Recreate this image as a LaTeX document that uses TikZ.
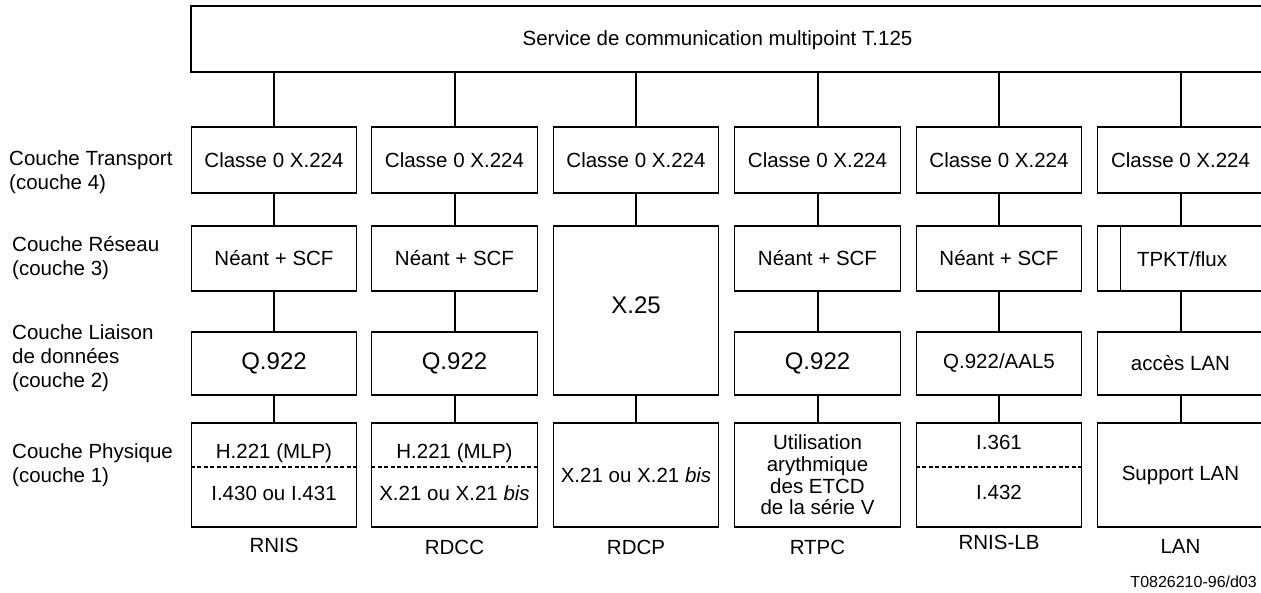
\documentclass[tikz,border=0pt]{standalone}
\usepackage{fontspec}
\setmainfont{Liberation Sans}
\newcommand\boxfont{\fontsize{20.5pt}{24pt}\selectfont}
\newcommand\bigboxfont{\fontsize{24pt}{28pt}\selectfont}
\newcommand\notefont{\fontsize{16pt}{19pt}\selectfont}
\begin{document}
\begin{tikzpicture}[x=1pt,y=-1pt,
  box/.style={draw, line width=1.3pt, minimum width=165.5pt, inner sep=0pt,
              align=center, font=\boxfont},
  txt/.style={inner sep=0pt, align=center, font=\boxfont},
  side/.style={inner sep=0pt, align=left, anchor=west, font=\boxfont},
  link/.style={line width=2pt},
  split/.style={line width=1.8pt, dash pattern=on 4pt off 2.5pt},
  row1/.style={box, minimum height=66pt},
  row2/.style={box, minimum height=65pt},
  row3/.style={box, minimum height=63pt},
  row4/.style={box, minimum height=104pt}]
\useasboundingbox (0,0) rectangle (1261,593);

% top service box
\node[draw, line width=1.3pt, minimum width=1072pt, minimum height=66pt, inner sep=0pt]
  (svc) at (727,39) {};
\node[txt] (svcT) at (717.5,40) {Service de communication multipoint T.125};

% layer names on the left
\node[side] (L4) at (9,172) {Couche Transport\\(couche 4)};
\node[side] (L3) at (12,258.5) {Couche Réseau\\(couche 3)};
\node[side] (L2) at (12,358) {Couche Liaison\\de données\\(couche 2)};
\node[side] (L1) at (12,465) {Couche Physique\\(couche 1)};

% transport layer
\node[row1] (t1) at (274,160)   {Classe 0 X.224};
\node[row1] (t2) at (454.5,160) {Classe 0 X.224};
\node[row1] (t3) at (636,160)   {Classe 0 X.224};
\node[row1] (t4) at (817.5,160) {Classe 0 X.224};
\node[row1] (t5) at (999,160)   {Classe 0 X.224};
\node[row1] (t6) at (1180.5,160){Classe 0 X.224};

% network layer
\node[row2] (n1) at (274,258.5)   {Néant + SCF};
\node[row2] (n2) at (454.5,258.5) {Néant + SCF};
\node[row2] (n4) at (817.5,258.5) {Néant + SCF};
\node[row2] (n5) at (999,258.5)   {Néant + SCF};
\node[row2] (n6) at (1180.5,258.5){};
\node[txt] (n6T) at (1182,259) {TPKT/flux};
\draw[line width=1pt] ([xshift=23.25pt]n6.north west) -- ([xshift=23.25pt]n6.south west);

% X.25 spans network and data link layers
\node[box, minimum height=169pt] (x3) at (636,310.5) {};
\node[txt, font=\bigboxfont] (x3T) at (636,305) {X.25};

% data link layer
\node[row3, font=\bigboxfont] (q1) at (274,363.5)   {Q.922};
\node[row3, font=\bigboxfont] (q2) at (454.5,363.5) {Q.922};
\node[row3, font=\bigboxfont] (q4) at (817.5,363.5) {Q.922};
\node[row3] (q5) at (999,363.5)   {Q.922/AAL5};
\node[row3] (q6) at (1180.5,363.5){accès LAN};

% physical layer
\node[row4] (p1) at (274,475) {};
\draw[split] ([yshift=-45pt]p1.north west) -- ([yshift=-45pt]p1.north east);
\node[txt] (p1a) at (274,453) {H.221 (MLP)};
\node[txt] (p1b) at (274,493) {I.430 ou I.431};

\node[row4] (p2) at (454.5,475) {};
\draw[split] ([yshift=-45pt]p2.north west) -- ([yshift=-45pt]p2.north east);
\node[txt] (p2a) at (454.5,453) {H.221 (MLP)};
\node[txt] (p2b) at (454.5,493) {X.21 ou X.21 \textit{bis}};

\node[row4] (p3) at (636,475) {X.21 ou X.21 \textit{bis}};

\node[row4, font=\fontsize{20.5pt}{21.7pt}\selectfont] (p4) at (817.5,475)
  {Utilisation\\arythmique\\des ETCD\\de la série V};

\node[row4] (p5) at (999,475) {};
\draw[split] ([yshift=-45pt]p5.north west) -- ([yshift=-45pt]p5.north east);
\node[txt] (p5a) at (999,442) {I.361};
\node[txt] (p5b) at (999,492) {I.432};

\node[row4] (p6) at (1180.5,475) {Support LAN};

% vertical connectors
\foreach \c in {1,2,3,4,5,6}
  \draw[link] (svc.south -| t\c.north) -- (t\c.north);
\foreach \c in {1,2,4,5,6} {
  \draw[link] (t\c.south) -- (n\c.north);
  \draw[link] (n\c.south) -- (q\c.north);
  \draw[link] (q\c.south) -- (p\c.north);
}
\draw[link] (t3.south) -- (x3.north);
\draw[link] (x3.south) -- (p3.north);

% network names
\node[txt] (b1) at (274,545)   {RNIS};
\node[txt] (b2) at (454.5,547) {RDCC};
\node[txt] (b3) at (636,547)   {RDCP};
\node[txt] (b4) at (817.5,547) {RTPC};
\node[txt] (b5) at (999,542)   {RNIS-LB};
\node[txt] (b6) at (1180.5,546){LAN};

\node[inner sep=0pt, anchor=east, font=\notefont] (ref) at (1257,582) {T0826210-96/d03};
\end{tikzpicture}
\end{document}
